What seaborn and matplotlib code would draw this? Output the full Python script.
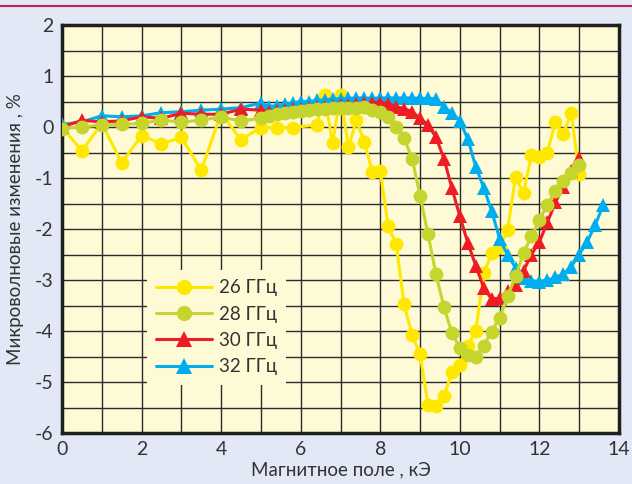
import numpy as np
import pandas as pd
import matplotlib
matplotlib.use("Agg")
import matplotlib.pyplot as plt
from matplotlib.lines import Line2D
from matplotlib.ticker import MultipleLocator
import seaborn as sns

# ---- data ----
labels = ["26 ГГц", "28 ГГц", "30 ГГц", "32 ГГц"]
colors = ["#FFE800", "#C6D52E", "#EE1C25", "#00AEEF"]

x26 = [0, 0.5, 1.0, 1.5, 2.0, 2.5, 3.0, 3.5, 4.0, 4.5, 5.0, 5.4, 5.8, 6.4, 6.6, 6.8,
       7.0, 7.2, 7.4, 7.6, 7.8, 8.0, 8.2, 8.4, 8.6, 8.8, 9.0, 9.2, 9.4, 9.6, 9.8,
       10.0, 10.2, 10.4, 10.6, 10.8, 11.0, 11.2, 11.4, 11.6, 11.8, 12.0, 12.2, 12.4,
       12.6, 12.8, 13.0]
y26 = [0.0, -0.47, 0.07, -0.70, -0.17, -0.33, -0.20, -0.85, 0.27, -0.25, -0.01, -0.01,
       -0.01, 0.04, 0.62, -0.32, 0.62, -0.40, 0.14, -0.30, -0.88, -0.87, -1.95, -2.30,
       -3.48, -4.08, -4.46, -5.45, -5.48, -5.28, -4.81, -4.66, -4.29, -4.00, -2.87,
       -2.48, -2.35, -2.01, -0.98, -1.30, -0.54, -0.59, -0.50, 0.10, -0.14, 0.28, -0.93]

x28 = [0, 0.5, 1.0, 1.5, 2.0, 2.5, 3.0, 3.5, 4.0, 4.5, 5.0, 5.2, 5.4, 5.6, 5.8, 6.0,
       6.2, 6.4, 6.6, 6.8, 7.0, 7.2, 7.4, 7.6, 7.8, 8.0, 8.2, 8.4, 8.6, 8.8, 9.0, 9.2,
       9.4, 9.6, 9.8, 10.0, 10.2, 10.4, 10.6, 10.8, 11.0, 11.2, 11.4, 11.6, 11.8, 12.0,
       12.2, 12.4, 12.6, 12.8, 13.0]
y28 = [-0.03, 0.0, 0.04, 0.05, 0.07, 0.14, 0.09, 0.14, 0.19, 0.12, 0.17, 0.22, 0.25,
       0.28, 0.30, 0.32, 0.34, 0.35, 0.36, 0.37, 0.38, 0.37, 0.38, 0.39, 0.33, 0.30,
       0.20, 0.0, -0.22, -0.62, -1.35, -2.10, -2.89, -3.53, -4.04, -4.33, -4.47, -4.50,
       -4.29, -4.01, -3.74, -3.32, -2.93, -2.47, -2.14, -1.82, -1.53, -1.25, -1.06,
       -0.91, -0.75]

x30 = [0, 0.5, 1.0, 1.5, 2.0, 2.5, 3.0, 3.5, 4.0, 4.5, 5.0, 5.2, 5.4, 5.6, 5.8, 6.0,
       6.2, 6.4, 6.6, 6.8, 7.0, 7.2, 7.4, 7.6, 7.8, 8.0, 8.2, 8.4, 8.6, 8.8, 9.0, 9.2,
       9.4, 9.6, 9.8, 10.0, 10.2, 10.4, 10.6, 10.8, 11.0, 11.2, 11.4, 11.6, 11.8, 12.0,
       12.2, 12.4, 12.6, 12.8, 13.0]
y30 = [0.0, 0.13, 0.10, 0.12, 0.20, 0.17, 0.27, 0.25, 0.25, 0.35, 0.33, 0.30, 0.32,
       0.33, 0.35, 0.36, 0.38, 0.40, 0.40, 0.42, 0.43, 0.44, 0.45, 0.47, 0.48, 0.48,
       0.46, 0.40, 0.36, 0.30, 0.17, 0.04, -0.20, -0.62, -1.20, -1.75, -2.27, -2.72,
       -3.15, -3.38, -3.35, -3.22, -3.10, -2.82, -2.50, -2.25, -1.87, -1.48, -1.17,
       -0.87, -0.60]

x32 = [0, 0.5, 1.0, 1.5, 2.0, 2.5, 3.0, 3.5, 4.0, 4.5, 5.0, 5.2, 5.4, 5.6, 5.8, 6.0,
       6.2, 6.4, 6.6, 6.8, 7.0, 7.2, 7.4, 7.6, 7.8, 8.0, 8.2, 8.4, 8.6, 8.8, 9.0, 9.2,
       9.4, 9.6, 9.8, 10.0, 10.2, 10.4, 10.6, 10.8, 11.0, 11.2, 11.4, 11.6, 11.8, 12.0,
       12.2, 12.4, 12.6, 12.8, 13.0, 13.2, 13.4, 13.6]
y32 = [0.05, 0.10, 0.22, 0.20, 0.22, 0.28, 0.30, 0.33, 0.35, 0.38, 0.47, 0.40, 0.42,
       0.45, 0.47, 0.50, 0.50, 0.52, 0.53, 0.55, 0.55, 0.56, 0.57, 0.57, 0.56, 0.57,
       0.57, 0.57, 0.57, 0.57, 0.56, 0.56, 0.55, 0.40, 0.27, 0.12, -0.24, -0.78, -1.19,
       -1.65, -2.19, -2.51, -2.76, -2.97, -3.02, -3.03, -3.00, -2.95, -2.88, -2.74,
       -2.50, -2.25, -1.93, -1.53]

xs = [x26, x28, x30, x32]
ys = [y26, y28, y30, y32]
markers = ["o", "o", "^", "^"]
zorders = [3, 6, 5, 4]

xticks = [0, 2, 4, 6, 8, 10, 12, 14]
yticks = [-6, -5, -4, -3, -2, -1, 0, 1, 2]
xlabel = "Магнитное поле , кЭ"
ylabel = "Микроволновые изменения , %"

# ---- style ----
sns.set_theme(style="white")
plt.rcParams["font.family"] = ["Lato", "DejaVu Sans"]
plt.rcParams["axes.unicode_minus"] = False

fig_bg = "#E2E8F5"
ax_bg = "#FFFAD6"
txt = "#333333"

fig = plt.figure(figsize=(6.32, 4.84), dpi=100, facecolor=fig_bg)
ax = fig.add_axes([62 / 632, 51 / 484, 557 / 632, 408 / 484])
ax.set_facecolor(ax_bg)

for x, y, lab, c, m, z in zip(xs, ys, labels, colors, markers, zorders):
    df = pd.DataFrame({"x": x, "y": y})
    ms = 10 if m == "o" else 9.5
    sns.lineplot(data=df, x="x", y="y", color=c, marker=m, markersize=ms,
                 markeredgewidth=0, linewidth=2.2, sort=False, ax=ax,
                 zorder=z, label=lab)

ax.set_xlim(0, 14)
ax.set_ylim(-6, 2)
ax.set_xticks(xticks)
ax.set_yticks(yticks)
ax.xaxis.set_minor_locator(MultipleLocator(1))
ax.yaxis.set_minor_locator(MultipleLocator(0.5))
ax.grid(True, which="both", color="#2a2a2a", linewidth=1.0, zorder=1)
ax.set_axisbelow(True)
ax.tick_params(which="both", length=0, labelsize=14, colors=txt, pad=6)
for s in ax.spines.values():
    s.set_color("#1f1f1f")
    s.set_linewidth(2.5)
    s.set_visible(True)

ax.set_xlabel(xlabel, fontsize=13.5, color=txt, labelpad=2)
ax.set_ylabel(ylabel, fontsize=13.5, color=txt, labelpad=8)

handles = []
for lab, c, m in zip(labels, colors, markers):
    handles.append(Line2D([0], [0], color=c, marker=m, markersize=11,
                          markeredgewidth=0, linewidth=2.2, label=lab))
leg = ax.legend(handles=handles, loc="upper left",
                bbox_to_anchor=(0.152, 0.40), fontsize=13.5,
                handlelength=3.0, labelspacing=0.5, borderpad=0.5,
                handletextpad=0.35, borderaxespad=0.0,
                frameon=True, fancybox=False)
leg.get_frame().set_facecolor(ax_bg)
leg.get_frame().set_edgecolor("none")
leg.get_frame().set_alpha(1)
leg.set_zorder(10)
for t in leg.get_texts():
    t.set_color(txt)

fig.add_artist(Line2D([0, 1], [1 - 5.5 / 484, 1 - 5.5 / 484],
                      transform=fig.transFigure, color="#C2205A", linewidth=1.5))

fig.savefig("out.png", dpi=100, facecolor=fig_bg)
